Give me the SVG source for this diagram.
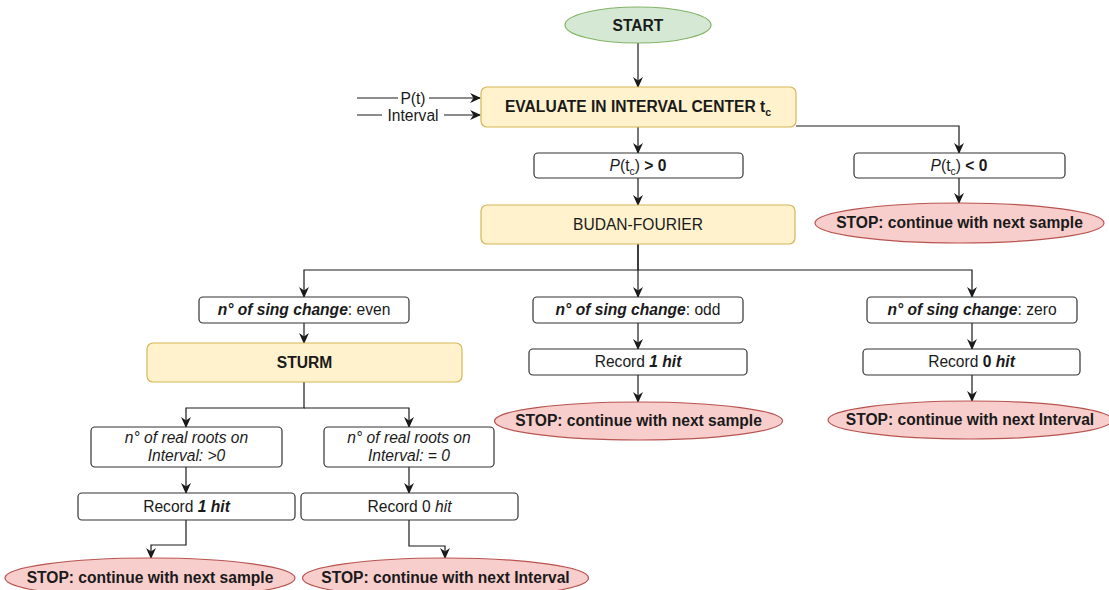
<svg xmlns="http://www.w3.org/2000/svg" width="1109" height="590" viewBox="0 0 1109 590">
<defs>
<style>
text{font-family:"Liberation Sans",Arial,Helvetica,sans-serif;font-size:15.6px;fill:#1a1a1a;text-anchor:middle}
.b{font-weight:bold}
.i{font-style:italic}
.box{fill:#ffffff;stroke:#333333;stroke-width:1.2}
.yel{fill:#fff2cc;stroke:#d6b656;stroke-width:1.2}
.grn{fill:#d5e8d4;stroke:#82b366;stroke-width:1.2}
.red{fill:#f8cecc;stroke:#b85450;stroke-width:1.2}
.edge{fill:none;stroke:#1a1a1a;stroke-width:1.2;marker-end:url(#arr)}
</style>
<marker id="arr" viewBox="0 0 10 10" refX="9" refY="5" markerWidth="11" markerHeight="11" markerUnits="userSpaceOnUse" orient="auto">
<path d="M0,0.5 L10,5 L0,9.5 L3,5 z" fill="#1a1a1a"/>
</marker>
</defs>
<rect width="1109" height="590" fill="#ffffff"/>

<g id="connectors">
<path class="edge" d="M638,43 V87"/>
<path class="edge" d="M638,127 V153"/>
<path class="edge" d="M796,126 H959 V153"/>
<path class="edge" d="M638,178 V205"/>
<path class="edge" d="M959,178 V203"/>
<path class="edge" d="M638,244 V270 H304 V297"/>
<path class="edge" d="M638,244 V297"/>
<path class="edge" d="M638,270 H972 V297"/>
<path class="edge" d="M304,323 V343"/>
<path class="edge" d="M638,323 V349"/>
<path class="edge" d="M972,323 V349"/>
<path class="edge" d="M638,375 V402"/>
<path class="edge" d="M972,375 V401"/>
<path class="edge" d="M304,382 V408 H186 V427"/>
<path class="edge" d="M304,408 H409 V427"/>
<path class="edge" d="M186,467 V493"/>
<path class="edge" d="M409,467 V493"/>
<path class="edge" d="M186,520 V545 H151 V558"/>
<path class="edge" d="M409,520 V546 H445 V558"/>
<path class="edge" d="M357,98 H480"/>
<path class="edge" d="M357,115 H480"/>
<rect x="398" y="91" width="31" height="14" fill="#ffffff"/>
<text x="413" y="104">P(t)</text>
<rect x="382" y="108" width="62" height="14" fill="#ffffff"/>
<text x="413" y="121">Interval</text>
</g>

<g id="start">
<ellipse class="grn" cx="638" cy="25" rx="73" ry="18"/>
<text class="b" x="638" y="31">START</text>
</g>

<g id="evaluate">
<rect class="yel" x="481" y="87" width="315" height="40" rx="6"/>
<text class="b" x="638" y="112">EVALUATE IN INTERVAL CENTER t<tspan font-size="10.5" dy="4">c</tspan></text>
</g>

<g id="p-positive">
<rect class="box" x="534" y="153" width="209" height="25" rx="4"/>
<text x="638" y="171"><tspan class="i">P</tspan>(t<tspan font-size="10.5" dy="4">c</tspan><tspan dy="-4">) </tspan><tspan class="b">&gt; 0</tspan></text>
</g>

<g id="p-negative">
<rect class="box" x="854" y="153" width="211" height="25" rx="4"/>
<text x="959" y="171"><tspan class="i">P</tspan>(t<tspan font-size="10.5" dy="4">c</tspan><tspan dy="-4">) </tspan><tspan class="b">&lt; 0</tspan></text>
</g>

<g id="stop-1">
<ellipse class="red" cx="959.5" cy="223" rx="144.5" ry="20"/>
<text class="b" x="959.5" y="228">STOP: continue with next sample</text>
</g>

<g id="budan-fourier">
<rect class="yel" x="481" y="205" width="314" height="39" rx="6"/>
<text x="638" y="230">BUDAN-FOURIER</text>
</g>

<g id="sign-even">
<rect class="box" x="199" y="297" width="210" height="26" rx="4"/>
<text x="304" y="315"><tspan class="b i">n° of sing change</tspan>: even</text>
</g>

<g id="sign-odd">
<rect class="box" x="533" y="297" width="210" height="26" rx="4"/>
<text x="638" y="315"><tspan class="b i">n° of sing change</tspan>: odd</text>
</g>

<g id="sign-zero">
<rect class="box" x="867" y="297" width="210" height="26" rx="4"/>
<text x="972" y="315"><tspan class="b i">n° of sing change</tspan>: zero</text>
</g>

<g id="sturm">
<rect class="yel" x="147" y="343" width="315" height="39" rx="6"/>
<text class="b" x="304.5" y="368">STURM</text>
</g>

<g id="record-odd">
<rect class="box" x="529" y="349" width="218" height="26" rx="4"/>
<text x="638" y="367">Record <tspan class="b i">1 hit</tspan></text>
</g>

<g id="record-zero">
<rect class="box" x="863" y="349" width="217" height="26" rx="4"/>
<text x="971.5" y="367">Record <tspan class="b">0</tspan> <tspan class="b i">hit</tspan></text>
</g>

<g id="stop-2">
<ellipse class="red" cx="638.5" cy="421" rx="144" ry="19"/>
<text class="b" x="638.5" y="426">STOP: continue with next sample</text>
</g>

<g id="stop-3">
<ellipse class="red" cx="970" cy="420" rx="142" ry="19"/>
<text class="b" x="970" y="425">STOP: continue with next Interval</text>
</g>

<g id="roots-positive">
<rect class="box" x="91" y="427" width="191" height="40" rx="4"/>
<text class="i" x="186.5" y="443">n° of real roots on</text>
<text class="i" x="186.5" y="461">Interval: &gt;0</text>
</g>

<g id="roots-zero">
<rect class="box" x="324" y="427" width="170" height="40" rx="4"/>
<text class="i" x="409" y="443">n° of real roots on</text>
<text class="i" x="409" y="461">Interval: = 0</text>
</g>

<g id="record-positive">
<rect class="box" x="78" y="493" width="217" height="27" rx="4"/>
<text x="186.5" y="512">Record <tspan class="b i">1 hit</tspan></text>
</g>

<g id="record-none">
<rect class="box" x="301" y="493" width="217" height="27" rx="4"/>
<text x="409.5" y="512">Record 0 <tspan class="i">hit</tspan></text>
</g>

<g id="stop-4">
<ellipse class="red" cx="150" cy="578" rx="145" ry="20"/>
<text class="b" x="150" y="583">STOP: continue with next sample</text>
</g>

<g id="stop-5">
<ellipse class="red" cx="445.5" cy="578" rx="143" ry="20"/>
<text class="b" x="445.5" y="583">STOP: continue with next Interval</text>
</g>
</svg>
